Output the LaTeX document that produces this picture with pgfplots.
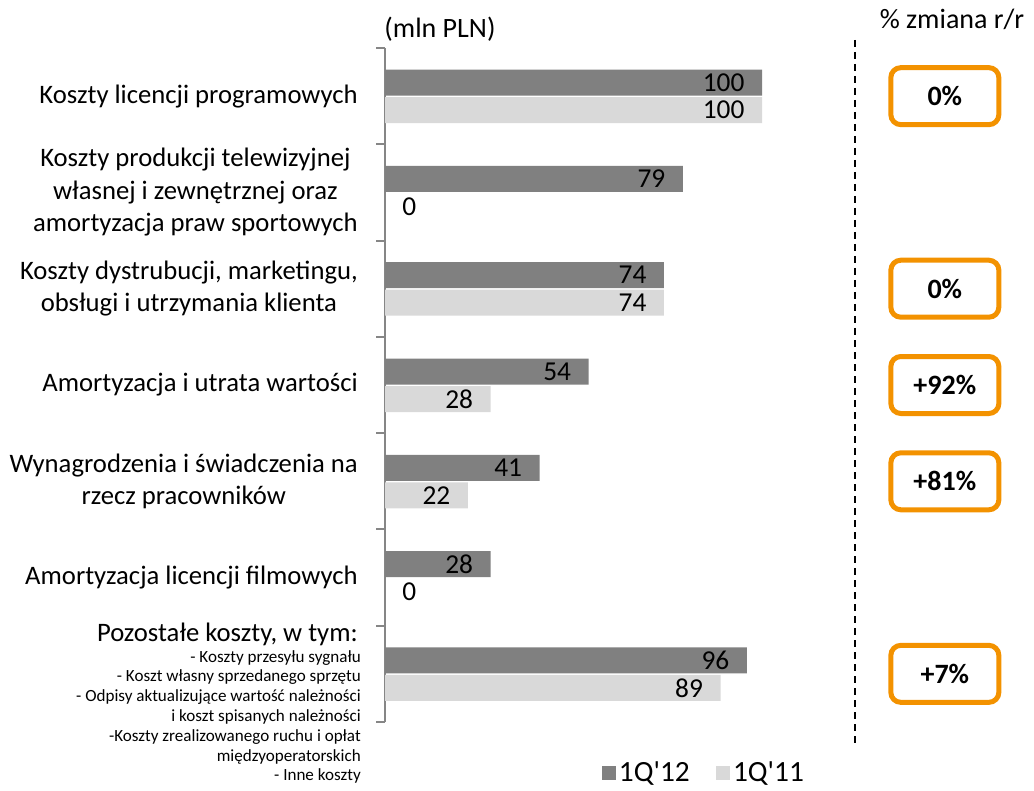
\documentclass[border=0pt]{standalone}
\usepackage{fontspec}
\setmainfont{Carlito}
\usepackage{pgfplots}
\pgfplotsset{compat=1.18}
\definecolor{darkbar}{HTML}{808080}
\definecolor{lightbar}{HTML}{D9D9D9}
\definecolor{axisgray}{HTML}{868686}
\definecolor{boxorange}{HTML}{F39200}
\newcommand{\catfont}{\fontsize{20}{24.4}\selectfont}
\newcommand{\valfont}{\fontsize{20.5}{25}\selectfont}
\newcommand{\legfont}{\fontsize{22}{26}\selectfont}
\newcommand{\hdfont}{\fontsize{21}{25}\selectfont}
\newcommand{\boxfont}{\fontsize{21}{25}\selectfont\bfseries}
\newcommand{\smallfont}{\fontsize{12.8}{14.85}\selectfont}
\begin{document}
\begin{tikzpicture}
\begin{scope}[x=0.75pt,y=-0.75pt]
\path[use as bounding box] (0,0) rectangle (1034,791);
\end{scope}
\begin{axis}[
  at={(288.75pt,-541.5pt)}, anchor=south west,
  scale only axis, width=282.75pt, height=505.5pt,
  xmin=0, xmax=100, ymin=-0.5, ymax=6.5,
  axis x line=none, axis y line=left,
  axis line style={-, draw=axisgray, line width=1.5pt},
  ytick={0,...,6}, major tick length=0pt,
  minor ytick={-0.5,0.5,...,6.5}, minor tick length=6.75pt,
  tick align=outside,
  minor tick style={draw=axisgray, line width=1.5pt},
  major tick style={draw=none},
  yticklabels={{},
    {Amortyzacja licencji filmowych},
    {Wynagrodzenia i świadczenia na\\rzecz pracowników},
    {Amortyzacja i utrata wartości},
    {Koszty dystrubucji, marketingu,\\obsługi i utrzymania klienta},
    {Koszty produkcji telewizyjnej\\własnej i zewnętrznej oraz\\amortyzacja praw sportowych},
    {Koszty licencji programowych}},
  yticklabel style={font=\catfont, align=center, inner sep=0pt, xshift=-20.25pt},
  /pgf/number format/assume math mode=true,
  clip=false,
  legend style={at={(0.565,-0.0757)}, anchor=west, draw=none, fill=none,
    legend columns=2, font=\legfont, legend cell align=left,
    /tikz/every even column/.append style={column sep=18pt}},
]
\addplot[xbar, bar width=19.5pt, bar shift=10.125pt, fill=darkbar, draw=none,
  point meta=x, nodes near coords,
  nodes near coords style={font=\valfont, anchor=east, inner sep=0pt, xshift=-13pt, yshift=10.125pt, text=black},
  legend image code/.code={\fill[darkbar] (0pt,-5.6pt) rectangle (10.5pt,5.6pt);}]
  coordinates {(100,6) (79,5) (74,4) (54,3) (41,2) (28,1) (96,0)};
\addlegendentry{1Q\textquotesingle12}
\addplot[xbar, bar width=19.5pt, bar shift=-10.5pt, fill=lightbar, draw=none,
  point meta=x, nodes near coords,
  nodes near coords style={font=\valfont, anchor=east, inner sep=0pt, xshift=-13pt, yshift=-10.5pt, text=black},
  legend image code/.code={\fill[lightbar] (0pt,-5.6pt) rectangle (10.5pt,5.6pt);}]
  coordinates {(100,6) (74,4) (28,3) (22,2) (89,0)};
\addlegendentry{1Q\textquotesingle11}
\addplot[xbar, bar width=19.5pt, bar shift=-10.5pt, fill=none, draw=none,
  point meta=x, nodes near coords,
  nodes near coords style={font=\valfont, anchor=west, inner sep=0pt, xshift=12.75pt, yshift=-10.5pt, text=black},
  forget plot]
  coordinates {(0,5) (0,1)};
\addplot[draw=none, mark=none, point meta=explicit symbolic,
  nodes near coords={\pgfplotspointmeta},
  nodes near coords style={anchor=center, draw=boxorange, line width=3.75pt,
    rounded corners=7.5pt, minimum width=81pt, minimum height=42.75pt,
    font=\boxfont, text=black, inner sep=0pt},
  forget plot]
  coordinates {(148.5,6) [0\%] (148.5,4) [0\%] (148.5,3) [+92\%] (148.5,2) [+81\%] (148.5,0) [+7\%]};
\end{axis}
\begin{scope}[x=0.75pt,y=-0.75pt]
\node[font=\hdfont, anchor=base] at (440,38) {(mln PLN)};
\node[font=\hdfont, anchor=base] at (952,29) {\% zmiana r/r};
\draw[black, line width=1.9pt, dash pattern=on 5.25pt off 3.75pt] (855,40) -- (855,745);
\node[font=\catfont, anchor=base east, inner sep=0pt] at (358,641) {Pozostałe koszty, w tym:};
\node[font=\smallfont, align=right, anchor=north east, inner sep=0pt] at (361,650)
  {- Koszty przesyłu sygnału\\- Koszt własny sprzedanego sprzętu\\- Odpisy aktualizujące wartość należności\\i koszt spisanych należności\\-Koszty zrealizowanego ruchu i opłat\\międzyoperatorskich\\- Inne koszty};
\end{scope}
\end{tikzpicture}
\end{document}
